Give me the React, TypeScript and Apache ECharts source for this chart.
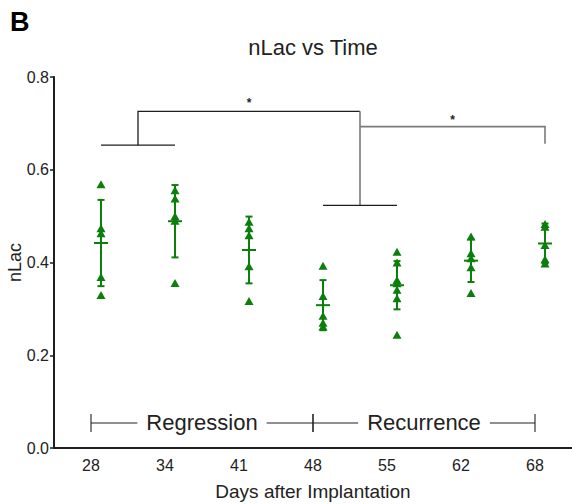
import React, { useEffect, useRef } from 'react';
import * as echarts from 'echarts';

const categories = ['28', '34', '41', '48', '55', '62', '68'];

const day28 = [0.569, 0.474, 0.463, 0.369, 0.330];
const day34 = [0.556, 0.538, 0.500, 0.490, 0.356];
const day41 = [0.488, 0.474, 0.459, 0.392, 0.317];
const day48 = [0.393, 0.328, 0.285, 0.270, 0.262];
const day55 = [0.423, 0.400, 0.362, 0.355, 0.341, 0.323, 0.244];
const day62 = [0.456, 0.420, 0.409, 0.390, 0.334];
const day68 = [0.483, 0.477, 0.438, 0.407, 0.398];

const means = [0.442, 0.489, 0.427, 0.308, 0.351, 0.404, 0.441];
const sds = [0.093, 0.078, 0.072, 0.054, 0.052, 0.046, 0.043];

const phaseNames = ['Regression', 'Recurrence'];
const phaseStart = [0, 3];
const phaseEnd = [3, 6];

const FONT = '"Liberation Sans", Arial, Helvetica, sans-serif';

export default function App() {
  const ref = useRef<HTMLDivElement>(null);
  useEffect(() => {
    const chart = echarts.init(ref.current!, null, { renderer: 'svg' });
    const OFF = 10;
    const green = '#0b7f0b';
    const dark = '#1e1e1e';
    const grey = '#7a7a7a';

    const groups = [day28, day34, day41, day48, day55, day62, day68];
    const scatterData: number[][] = [];
    groups.forEach((g, i) => g.forEach((v) => scatterData.push([i, v])));
    const errData = means.map((m, i) => [i, m, sds[i]]);

    const helpers = (api: any) => {
      const a = api.coord([0, 0]);
      const b = api.coord([1, 0]);
      const bw = b[0] - a[0];
      const X = (f: number) => a[0] + f * bw;
      const Y = (v: number) => api.coord([0, v])[1];
      return { X, Y };
    };

    chart.setOption({
      animation: false,
      grid: { left: 54, top: 77, width: 518, bottom: 56, containLabel: false, outerBoundsMode: 'none' },
      graphic: [
        {
          type: 'text',
          x: 10,
          y: 8,
          style: { text: 'B', font: `bold 27px ${FONT}`, fill: '#000' },
        },
        {
          type: 'text',
          x: 313,
          y: 47,
          style: {
            text: 'nLac vs Time',
            font: `22px ${FONT}`,
            fill: '#222',
            align: 'center',
            verticalAlign: 'middle',
            textAlign: 'center',
            textVerticalAlign: 'middle',
          },
        },
      ],
      xAxis: {
        type: 'category',
        data: categories,
        boundaryGap: true,
        axisLine: { lineStyle: { color: dark, width: 2 } },
        axisTick: { alignWithLabel: true, length: 5, lineStyle: { color: dark, width: 1.5 } },
        axisLabel: { fontSize: 16, color: '#222', margin: 9, fontFamily: FONT },
        name: 'Days after Implantation',
        nameLocation: 'middle',
        nameGap: 34,
        nameMoveOverlap: false,
        nameTextStyle: { fontSize: 19, color: '#222', fontFamily: FONT },
      },
      yAxis: {
        type: 'value',
        min: 0,
        max: 0.8,
        interval: 0.2,
        splitLine: { show: false },
        axisLine: { show: true, lineStyle: { color: dark, width: 2 } },
        axisTick: { show: true, length: 4, lineStyle: { color: dark, width: 1.5 } },
        axisLabel: {
          formatter: (v: number) => v.toFixed(1),
          fontSize: 16,
          color: '#222',
          margin: 5,
          fontFamily: FONT,
        },
        name: 'nLac',
        nameLocation: 'middle',
        nameGap: 30,
        nameMoveOverlap: false,
        nameTextStyle: { fontSize: 18, color: '#222', fontFamily: FONT },
      },
      series: [
        {
          type: 'custom',
          data: errData,
          z: 2,
          renderItem: (params: any, api: any) => {
            const i = api.value(0);
            const m = api.value(1);
            const s = api.value(2);
            const c = api.coord([i, m]);
            const t = api.coord([i, m + s]);
            const b = api.coord([i, m - s]);
            const x = c[0] + OFF;
            const st = { stroke: green, lineWidth: 2 };
            return {
              type: 'group',
              children: [
                { type: 'line', shape: { x1: x, y1: t[1], x2: x, y2: b[1] }, style: st },
                { type: 'line', shape: { x1: x - 3.5, y1: t[1], x2: x + 3.5, y2: t[1] }, style: st },
                { type: 'line', shape: { x1: x - 3.5, y1: b[1], x2: x + 3.5, y2: b[1] }, style: st },
                { type: 'line', shape: { x1: x - 7, y1: c[1], x2: x + 7, y2: c[1] }, style: st },
              ],
            };
          },
        },
        {
          type: 'scatter',
          data: scatterData,
          symbol: 'triangle',
          symbolSize: [9, 8],
          symbolOffset: [OFF, 0],
          itemStyle: { color: green, opacity: 1 },
          z: 3,
        },
        {
          type: 'custom',
          data: [[0, 0]],
          silent: true,
          z: 1,
          renderItem: (params: any, api: any) => {
            const { X, Y } = helpers(api);
            const d = { stroke: dark, lineWidth: 1.3, fill: null };
            const g = { stroke: grey, lineWidth: 1.6, fill: null };
            const yA = Y(0.653);
            const yTop = Y(0.726);
            const yB = Y(0.523);
            const yC = Y(0.693);
            const yCe = Y(0.656);
            return {
              type: 'group',
              children: [
                { type: 'line', shape: { x1: X(0) + OFF, y1: yA, x2: X(1) + OFF, y2: yA }, style: d },
                {
                  type: 'polyline',
                  shape: { points: [[X(0.5) + OFF, yA], [X(0.5) + OFF, yTop], [X(3.5) + OFF, yTop]] },
                  style: d,
                },
                { type: 'line', shape: { x1: X(3.5) + OFF, y1: yTop, x2: X(3.5) + OFF, y2: yB }, style: g },
                { type: 'line', shape: { x1: X(3) + OFF, y1: yB, x2: X(4) + OFF, y2: yB }, style: d },
                {
                  type: 'polyline',
                  shape: { points: [[X(3.5) + OFF, yC], [X(6) + OFF, yC], [X(6) + OFF, yCe]] },
                  style: g,
                },
                {
                  type: 'text',
                  x: X(2) + OFF,
                  y: Y(0.744),
                  style: { text: '*', font: `bold 12px ${FONT}`, fill: dark, align: 'center', verticalAlign: 'middle' },
                },
                {
                  type: 'text',
                  x: X(4.75) + OFF,
                  y: Y(0.708),
                  style: { text: '*', font: `bold 12px ${FONT}`, fill: dark, align: 'center', verticalAlign: 'middle' },
                },
              ],
            };
          },
        },
        {
          type: 'custom',
          data: [[0, 0]],
          silent: true,
          z: 1,
          renderItem: (params: any, api: any) => {
            const { X, Y } = helpers(api);
            const y = Y(0.054);
            const st = { stroke: '#222', lineWidth: 1.1 };
            const children: any[] = [];
            phaseNames.forEach((name, k) => {
              const x0 = X(phaseStart[k]);
              const x1 = X(phaseEnd[k]);
              children.push({ type: 'line', shape: { x1: x0, y1: y, x2: x1, y2: y }, style: st });
              children.push({ type: 'line', shape: { x1: x0, y1: y - 9, x2: x0, y2: y + 9 }, style: st });
              children.push({ type: 'line', shape: { x1: x1, y1: y - 9, x2: x1, y2: y + 9 }, style: st });
              children.push({
                type: 'text',
                x: (x0 + x1) / 2,
                y: y,
                z2: 10,
                style: {
                  text: name,
                  font: `22px ${FONT}`,
                  fill: '#222',
                  align: 'center',
                  verticalAlign: 'middle',
                  backgroundColor: '#fff',
                  padding: [0, 9],
                },
              });
            });
            return { type: 'group', children };
          },
        },
      ],
    });
    return () => chart.dispose();
  }, []);
  return (
    <div
      ref={ref}
      style={{ position: 'absolute', left: 0, top: 0, width: 572, height: 504, background: '#fff' }}
    />
  );
}
